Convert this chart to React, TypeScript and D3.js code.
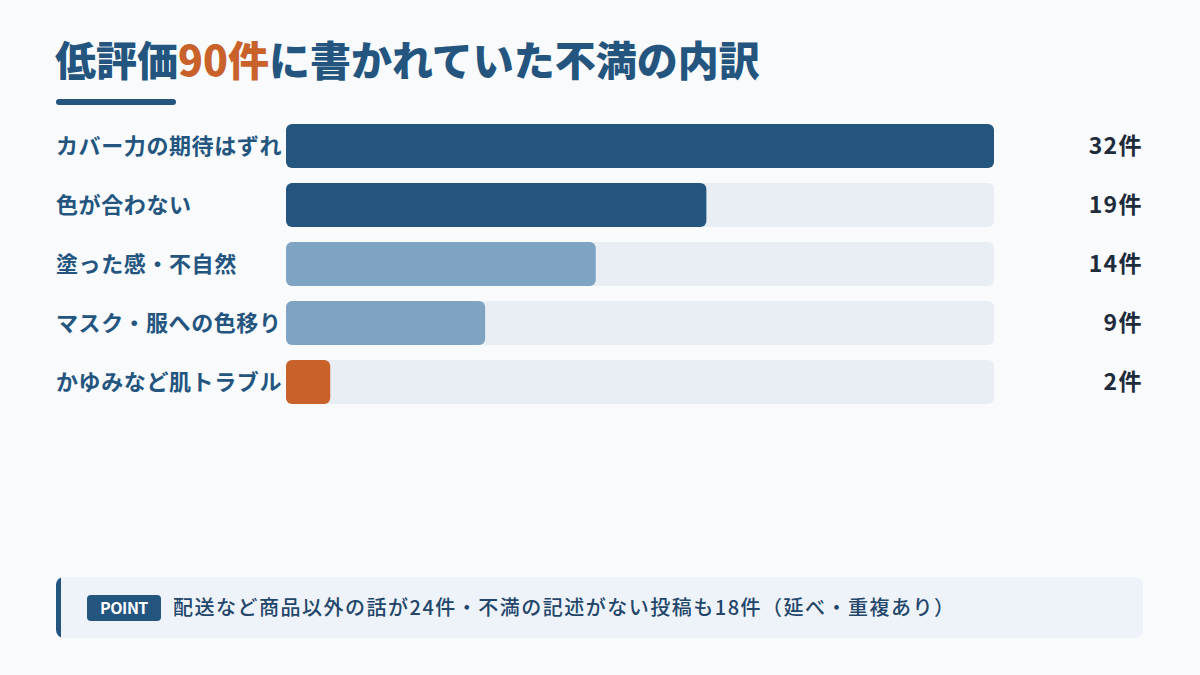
import React from 'react';
import * as d3 from 'd3';

const categories = ['カバー力の期待はずれ', '色が合わない', '塗った感・不自然', 'マスク・服への色移り', 'かゆみなど肌トラブル'];
const counts = [32, 19, 14, 9, 2];
const tones = ['dark', 'dark', 'light', 'light', 'accent'];

const palette: Record<string, string> = {
  dark: '#23557f',
  light: '#7fa3c3',
  accent: '#c9622a',
};

const W = 1200;
const H = 675;
const font = '"Noto Sans CJK JP", "Noto Sans", sans-serif';

const App: React.FC = () => {
  const x = d3.scaleLinear().domain([0, 32]).range([286, 994]);
  const y = d3.scaleBand().domain(categories).range([124, 404]).paddingInner(15 / 59).paddingOuter(0);
  const bh = y.bandwidth();

  return (
    <div style={{ position: 'fixed', left: 0, top: 0, width: W, height: H, background: '#f8fafc' }}>
      <svg width={W} height={H} style={{ display: 'block', fontFamily: font }}>
        <rect width={W} height={H} fill="#f8fafc" />
        <text x={55} y={76} fontSize={41} fontWeight={900} fill="#23557f">
          低評価<tspan fill="#c9622a">90件</tspan>に書かれていた不満の内訳
        </text>
        <rect x={56} y={99} width={120} height={6} rx={3} fill="#23557f" />

        {categories.map((c, i) => {
          const yy = y(c)!;
          return (
            <g key={c}>
              <rect x={x(0)} y={yy} width={x(32) - x(0)} height={bh} rx={6} fill="#e9eef5" />
              <rect x={x(0)} y={yy} width={x(counts[i]) - x(0)} height={bh} rx={6} fill={palette[tones[i]]} />
              <text x={56} y={yy + bh / 2} dy="0.35em" fontSize={22} fontWeight={700} letterSpacing={0.6} fill="#23557f">
                {c}
              </text>
              <text x={1143} y={yy + bh / 2} dy="0.35em" textAnchor="end" fontSize={23} fontWeight={700} letterSpacing={1.4} fill="#1e2b3b">
                {counts[i]}件
              </text>
            </g>
          );
        })}

        <clipPath id="boxclip">
          <rect x={56} y={577} width={1087} height={61} rx={8} />
        </clipPath>
        <g clipPath="url(#boxclip)">
          <rect x={56} y={577} width={1087} height={61} fill="#eef3f9" />
          <rect x={56} y={577} width={5} height={61} fill="#23557f" />
        </g>
        <rect x={87} y={595} width={74} height={26} rx={4} fill="#23557f" />
        <text x={124} y={608} dy="0.35em" textAnchor="middle" fontSize={16} fontWeight={700} letterSpacing={-0.5} fill="#ffffff">
          POINT
        </text>
        <text x={173} y={608} dy="0.35em" fontSize={20} fontWeight={500} letterSpacing={1.5} fill="#23466a">
          配送など商品以外の話が24件・不満の記述がない投稿も18件（延べ・重複あり）
        </text>
      </svg>
    </div>
  );
};

export default App;
